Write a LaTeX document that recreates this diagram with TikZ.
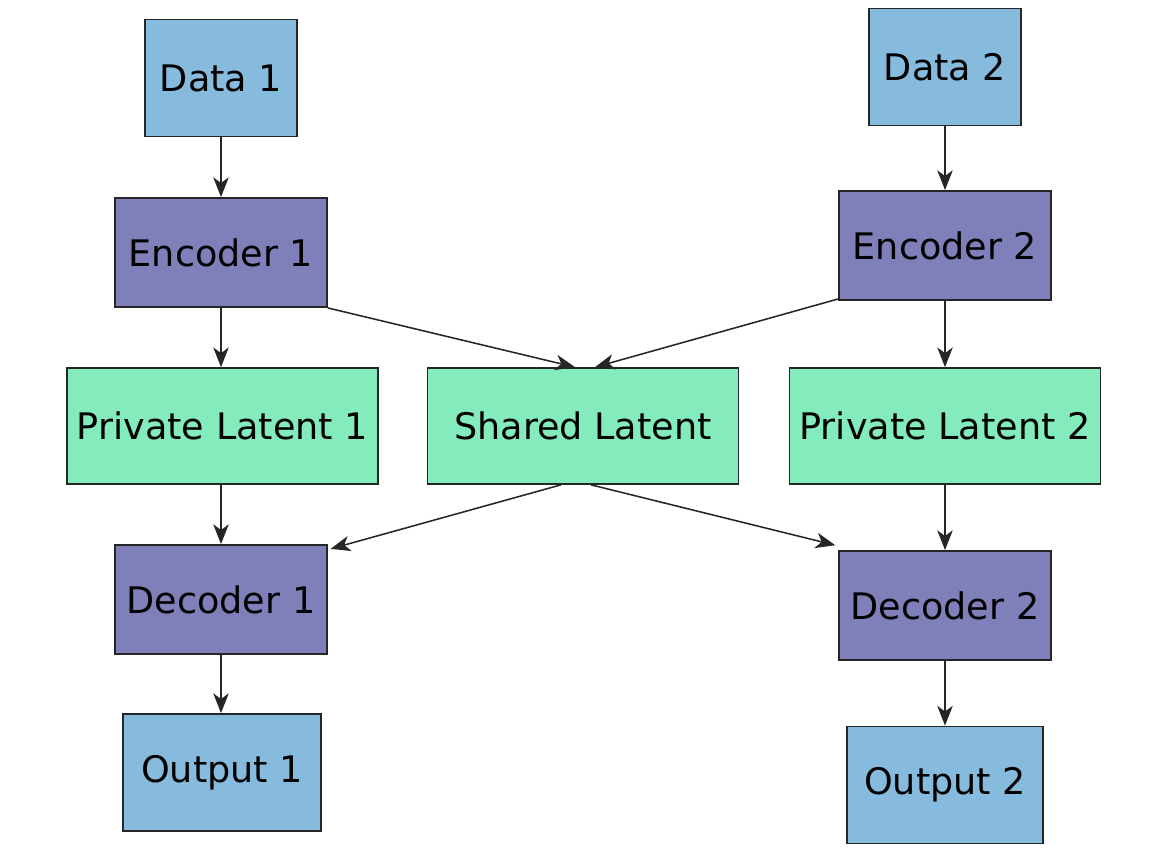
\documentclass[tikz,border=0pt]{standalone}
\usepackage{fontspec}
\setmainfont{DejaVu Sans}
\usetikzlibrary{arrows.meta, positioning, calc}
\definecolor{DataBlue}{HTML}{86BBDE}
\definecolor{CodePurple}{HTML}{7F7FB9}
\definecolor{LatentGreen}{HTML}{83EBBC}

\begin{document}
\begin{tikzpicture}[>={Stealth[length=14pt,width=11pt,inset=4pt]},
    box/.style={draw=black!85, line width=1.2pt, inner sep=0pt, font=\fontsize{26}{30}\selectfont},
    iobox/.style={box, fill=DataBlue, minimum height=2.93cm},
    codebox/.style={box, fill=CodePurple, minimum width=5.3cm, minimum height=2.73cm},
    latbox/.style={box, fill=LatentGreen, minimum width=7.78cm, minimum height=2.9cm},
    flow/.style={->, line width=1.1pt, black!85}]
        \useasboundingbox (0,0) rectangle (29.35,-21.45);
        % Inputs
        \node [iobox, minimum width=3.8cm] (data1) at (5.525,-1.95) {Data 1};
        \node [iobox, minimum width=3.8cm] (data2) at (23.625,-1.675) {Data 2};
        
        % Encoders
        \node [codebox] (enc1) at (5.525,-6.3125) {Encoder 1};
        \node [codebox] (enc2) at (23.625,-6.1375) {Encoder 2};
        
        % Latent spaces
        \node [latbox] (priv1) at (5.5625,-10.65) {Private Latent 1};
        \node [latbox] (shared) at (14.575,-10.65) {Shared Latent};
        \node [latbox] (priv2) at (23.625,-10.65) {Private Latent 2};
        
        % Decoders
        \node [codebox] (dec1) at (5.525,-14.9875) {Decoder 1};
        \node [codebox] (dec2) at (23.625,-15.1375) {Decoder 2};
        
        % Outputs
        \node [iobox, minimum width=4.95cm] (out1) at (5.55,-19.3125) {Output 1};
        \node [iobox, minimum width=4.9cm] (out2) at (23.625,-19.625) {Output 2};
        
        % Vertical flow
        \draw [flow] (data1) -- (enc1);
        \draw [flow] (enc1) -- (enc1 |- priv1.north);
        \draw [flow] (enc1 |- priv1.south) -- (dec1);
        \draw [flow] (dec1) -- (dec1 |- out1.north);
        \draw [flow] (data2) -- (enc2);
        \draw [flow] (enc2) -- (priv2);
        \draw [flow] (priv2) -- (dec2);
        \draw [flow] (dec2) -- (out2);
        
        % Shared paths
        \draw [flow] (enc1.south east) -- ([xshift=-0.2cm]shared.north);
        \draw [flow] ([yshift=0.05cm]enc2.south west) -- ([xshift=0.3cm]shared.north);
        \draw [flow] ([xshift=-0.55cm]shared.south) -- ([xshift=0.07cm,yshift=-0.12cm]dec1.north east);
        \draw [flow] ([xshift=0.2cm]shared.south) -- ([xshift=-0.07cm,yshift=0.12cm]dec2.north west);
    \end{tikzpicture}
\end{document}
